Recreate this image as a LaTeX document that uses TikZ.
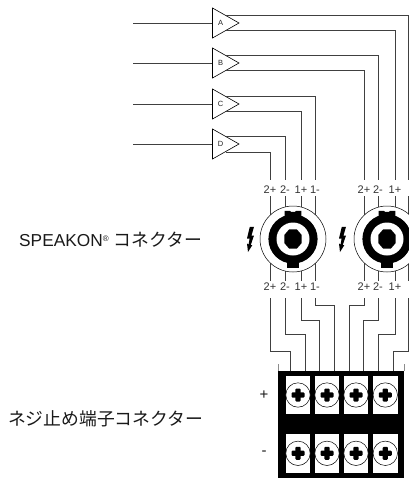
\documentclass[tikz,border=0pt]{standalone}
\usepackage{fontspec}
\setmainfont{Liberation Sans}
\newfontfamily\cjkfont{Noto Sans CJK JP}
\definecolor{wire}{gray}{0.25}
\tikzset{
  x=1pt,y=-1pt,
  wireline/.style={draw=wire,line width=0.75pt},
  ampbox/.style={draw=black,fill=white,line width=0.6pt},
  amplabel/.style={font=\fontsize{7.5}{8}\selectfont,inner sep=0pt,text=black!85},
  pinlabel/.style={font=\fontsize{11}{12}\selectfont,inner sep=0pt,text=black!80},
  biglabel/.style={font=\fontsize{17.3}{19}\selectfont,inner sep=0pt,text=black!90},
  signlabel/.style={font=\fontsize{15}{16}\selectfont,inner sep=0pt,text=black!90},
}
\newcommand{\ampl}[3]{%
  \coordinate (#1in) at (212.5,#2);
  \coordinate (#1src) at (133,#2);
  \draw[wireline] (#1src) -- (#1in);
  \draw[ampbox] (212.5,#2-15) -- (239,#2) -- (212.5,#2+15) -- cycle;
  \node[amplabel] (#1lab) at (220.5,#2) {#3};
}
\newcommand{\spk}[2]{%
  \node[circle,draw=black,line width=0.5pt,fill=white,minimum size=66pt,inner sep=0pt] (#1) at (#2,239) {};
  \fill[black] (#2,239) circle (24.6);
  \fill[black] (#2-8.4,210.8) -- (#2-3,210.8) -- (#2-2,211.8) -- (#2+2,211.8) -- (#2+3,210.8) -- (#2+8.4,210.8) -- (#2+8.4,222) -- (#2-8.4,222) -- cycle;
  \fill[black] (#2-5.8,255) rectangle (#2+5.8,267.6);
  \fill[white] (#2,239) circle (16.5);
  \fill[black] (#2-3.8,229.3) -- (#2+3.8,229.3) -- (#2+8.7,235) -- (#2+8.7,243) -- (#2+3.8,248.7) -- (#2-3.8,248.7) -- (#2-8.7,243) -- (#2-8.7,235) -- cycle;
}
\newcommand{\bolt}[1]{%
  \fill[black] (#1-0.2,226.8) -- (#1+4,226.8) -- (#1+1.5,235.5) -- (#1+4,235.5) -- (#1+0.8,245) -- (#1+2.4,245) -- (#1-2,252) -- (#1-3,243.5) -- (#1-1.4,244.5) -- (#1-0.4,238.5) -- (#1-3,238.5) -- cycle;
}
\newcommand{\screw}[3]{%
  \node[circle,draw=black,line width=0.5pt,fill=white,minimum size=24.4pt,inner sep=0pt] (#1) at (#2,#3) {};
  \fill[black,rounded corners=1pt] (#2-2.6,#3-6.5) rectangle (#2+2.6,#3+6.5);
  \fill[black,rounded corners=1pt] (#2-6.5,#3-2.6) rectangle (#2+6.5,#3+2.6);
}
\begin{document}
\begin{tikzpicture}
\useasboundingbox (0,0) rectangle (409,479);
% amplifiers
\ampl{A}{23}{A}
\ampl{B}{63}{B}
\ampl{C}{104}{C}
\ampl{D}{144}{D}
% upper wires
\foreach \n/\yy/\xx in {a1/15.3/408.5,a2/30.3/395,b1/55.3/378,b2/70.7/364,c1/96.3/315,c2/111.7/301,d1/136.7/285,d2/152/270}{
  \coordinate (\n s) at (225.5,\yy);
  \coordinate (\n t) at (\xx,179.5);
  \draw[wireline] (\n s) -| (\n t);
}
% speakon
\foreach \xx in {270,285,301,315,364,378,395,408.5}{
  \draw[wireline] (\xx,196) -- (\xx,281);
}
\spk{spkL}{293}
\spk{spkR}{387}
\bolt{250}
\bolt{342}
% pin labels
\foreach \n/\xx/\tt in {p1/270/2+,p2/285/2-,p3/301/1+,p4/315/1-,p5/364/2+,p6/378/2-,p7/395/1+}{
  \node[pinlabel] (\n u) at (\xx,189.5) {\tt};
  \node[pinlabel] (\n l) at (\xx,287) {\tt};
}
% lower wires
\foreach \n/\xa/\ya/\xb in {w1/270/351/290,w2/285/334/305,w3/301/320/319.3,w4/315/305.7/334,w5/364/305.7/349,w6/378/320/363.3,w7/395/334/378.3,w8/408.5/351/393}{
  \coordinate (\n s) at (\xa,298);
  \coordinate (\n t) at (\xb,371);
  \draw[wireline] (\n s) -- (\xa,\ya) -- (\xb,\ya) -- (\n t);
}
% terminal block
\draw[draw=black!45,line width=0.6pt] (278.3,364) -- (278.3,371);
\draw[draw=black!45,line width=0.6pt] (404.3,364) -- (404.3,371);
\node[draw=none,fill=black,minimum width=126pt,minimum height=107.5pt,inner sep=0pt] (blk) at (341.3,424.5) {};
\foreach \xx in {298,327,356,385.3}{
  \fill[white] (\xx-12.4,375.7) rectangle (\xx+12.4,414);
  \fill[white] (\xx-12.4,434.3) rectangle (\xx+12.4,473.3);
  \screw{s\xx u}{\xx}{395}
  \screw{s\xx d}{\xx}{453.3}
}
\node[signlabel] (plus) at (264,395) {+};
\node[signlabel] (minus) at (264,453.3) {-};
\node[biglabel,anchor=west] (spktxt) at (19,240) {SPEAKON\raisebox{5pt}{\fontsize{8}{8}\selectfont ®} {\cjkfont\fontsize{17.8}{19}\selectfont コネクター}};
\node[biglabel,anchor=west,font=\fontsize{17.8}{19}\selectfont] (termtxt) at (8,419) {\cjkfont ネジ止め端子コネクター};
\end{tikzpicture}
\end{document}
